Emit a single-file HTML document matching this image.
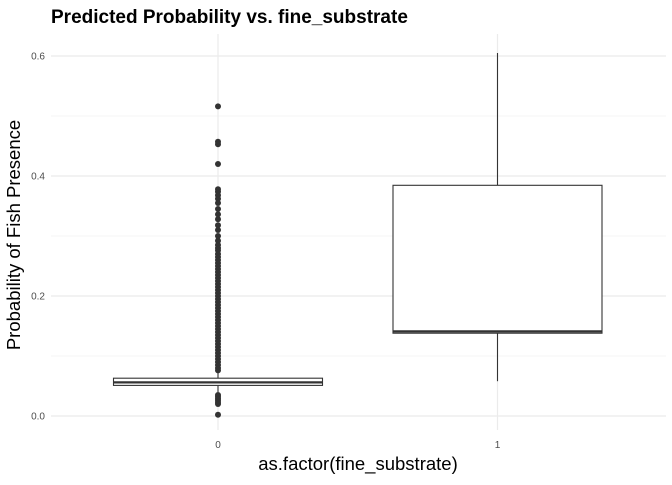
<!DOCTYPE html>
<html><head><meta charset="utf-8"><style>
body{margin:0;background:#fff;font-family:"Liberation Sans",Arial,sans-serif}
</style></head><body>
<svg id="c" width="672" height="480" xmlns="http://www.w3.org/2000/svg">
<text x="51" y="23" font-size="19" font-weight="bold" fill="#000">Predicted Probability vs. fine_substrate</text>
<g id="grid"></g>
<g id="yt"></g>
<g id="xt"></g>
<g id="marks"></g>
<text x="358" y="470" font-size="18.5" text-anchor="middle" fill="#000">as.factor(fine_substrate)</text>
<text transform="translate(20,235) rotate(-90)" font-size="18.5" text-anchor="middle" fill="#000">Probability of Fish Presence</text>
</svg>
<script>
const categories=["0","1"];
const q1=[0.051,0.138];
const medians=[0.056,0.141];
const q3=[0.063,0.3845];
const whiskLow=[0.040,0.058];
const whiskHigh=[0.073,0.605];
const yTicks=[0,0.2,0.4,0.6];
const yTickLabels=["0.0","0.2","0.4","0.6"];
const yMinor=[0.1,0.3,0.5];
const outliers0=[0.516,0.457,0.453,0.42,0.378,0.374,0.368,0.362,0.355,0.345,0.336,0.328,0.318,0.31,0.3,0.292,0.285,0.28,0.276,0.27,0.265,0.26,0.255,0.25,0.245,0.24,0.235,0.23,0.225,0.22,0.215,0.21,0.205,0.2,0.195,0.19,0.185,0.18,0.175,0.17,0.165,0.16,0.155,0.15,0.145,0.14,0.135,0.13,0.125,0.12,0.115,0.11,0.105,0.1,0.095,0.09,0.085,0.08,0.076,0.035,0.032,0.029,0.026,0.023,0.02,0.002];
const ns="http://www.w3.org/2000/svg";
const y=v=>416-v*600;
const x=i=>218+i*279.5;
const hw=104.5;
function mk(p,t,a){const e=document.createElementNS(ns,t);for(const k in a)e.setAttribute(k,a[k]);document.getElementById(p).appendChild(e);return e;}
yMinor.forEach(v=>{const l=mk('grid','line',{x1:51,x2:666,y1:y(v),y2:y(v),stroke:'#ebebeb','stroke-width':0.6});

});
yTicks.forEach((v,i)=>{const l=mk('grid','line',{x1:51,x2:666,y1:y(v),y2:y(v),stroke:'#ebebeb','stroke-width':1.2});


const t=mk('yt','text',{x:45,y:y(v)+3.5,'font-size':10,'text-anchor':'end',fill:'#4d4d4d'});t.textContent=yTickLabels[i];

});
categories.forEach((c,i)=>{const l=mk('grid','line',{x1:x(i),x2:x(i),y1:34,y2:430,stroke:'#ebebeb','stroke-width':1.2});


const t=mk('xt','text',{x:x(i),y:448,'font-size':10,'text-anchor':'middle',fill:'#4d4d4d'});t.textContent=c;


const w1=mk('marks','line',{x1:x(i),x2:x(i),y1:y(q3[i]),y2:y(whiskHigh[i]),stroke:'#333','stroke-width':1.1});


const w2=mk('marks','line',{x1:x(i),x2:x(i),y1:y(q1[i]),y2:y(whiskLow[i]),stroke:'#333','stroke-width':1.1});


const r=mk('marks','rect',{x:x(i)-hw,y:y(q3[i]),width:2*hw,height:y(q1[i])-y(q3[i]),fill:'#fff',stroke:'#333','stroke-width':1.1});


const m=mk('marks','line',{x1:x(i)-hw,x2:x(i)+hw,y1:y(medians[i]),y2:y(medians[i]),stroke:'#333','stroke-width':2.2});

});
outliers0.forEach(v=>{const d=mk('marks','circle',{cx:x(0),cy:y(v),r:3,fill:'#333'});

});
</script>
</body></html>
